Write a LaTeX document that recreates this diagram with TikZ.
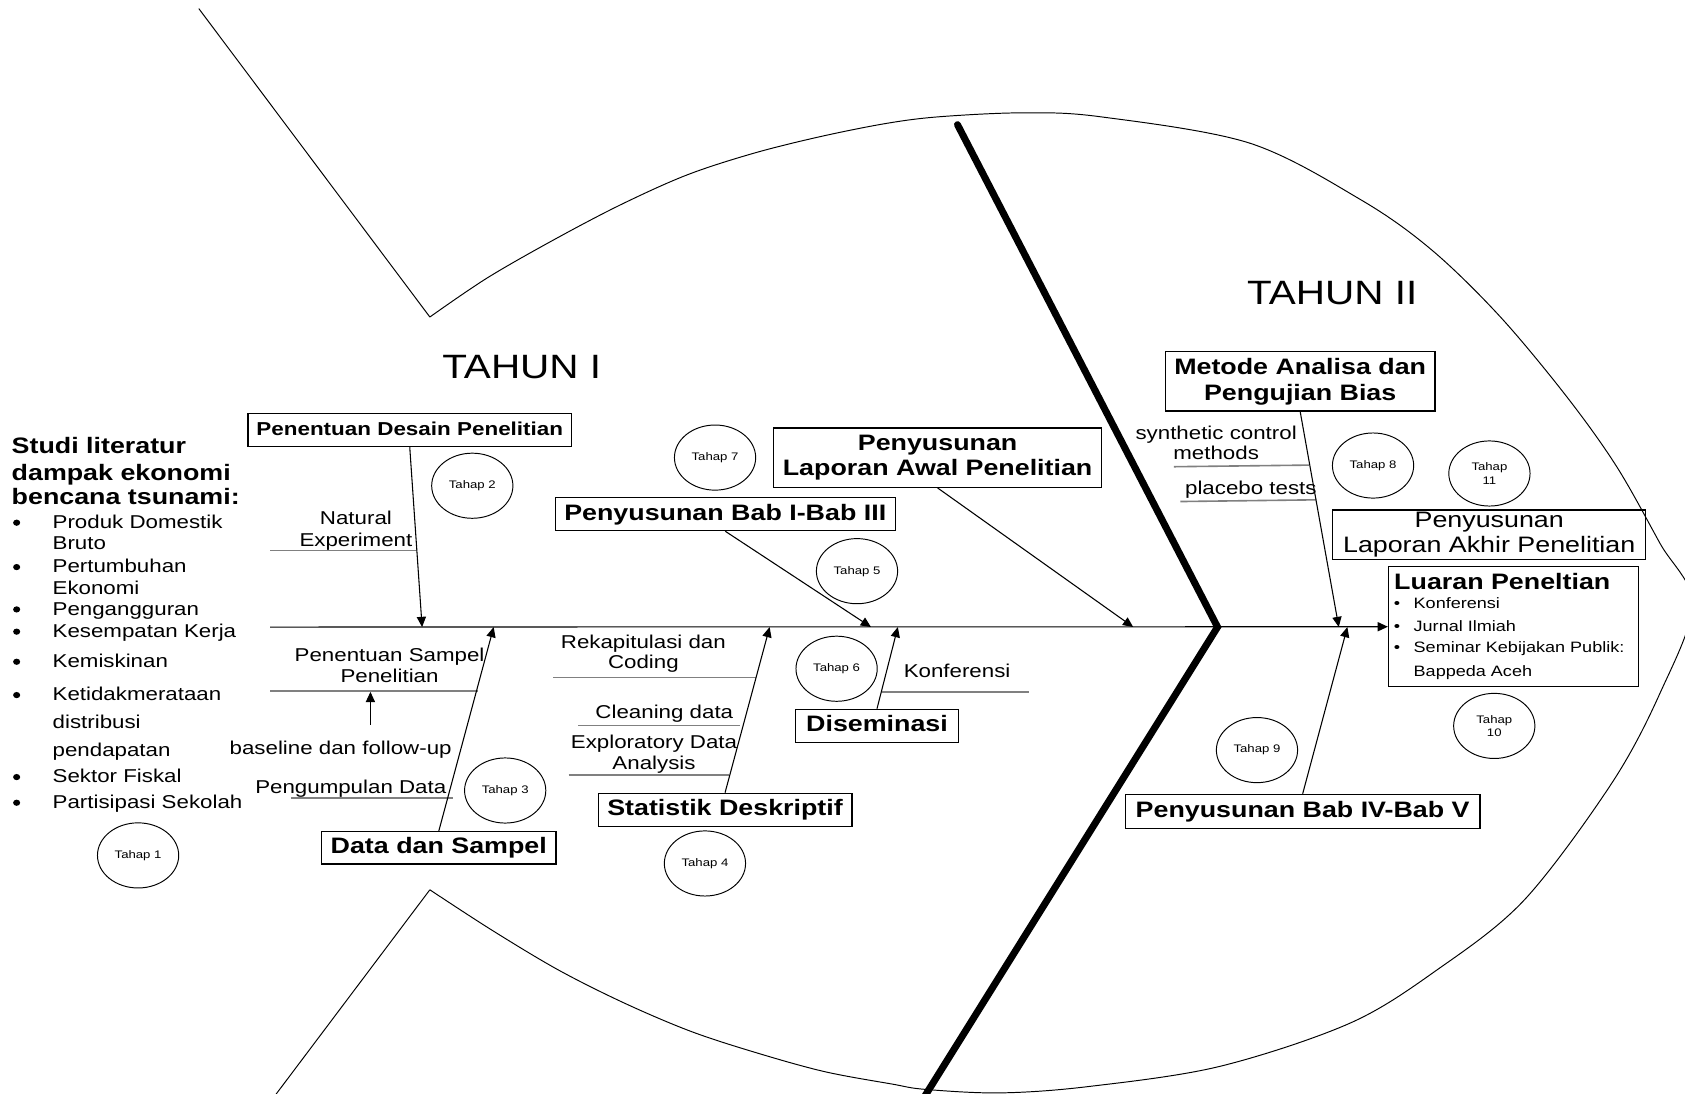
\documentclass[tikz,border=0pt]{standalone}
\usepackage{fontspec}
\setmainfont{Liberation Sans}[FakeStretch=1.2]
\usetikzlibrary{arrows.meta,shapes.geometric}
\definecolor{bonegray}{RGB}{128,128,128}
\newcommand{\fsz}[2]{\fontsize{#1}{#2}\selectfont}

\begin{document}
\begin{tikzpicture}[x=1pt,y=-1pt,
  outline/.style={line width=0.9pt},
  arr/.style={line width=1pt,-{Triangle[length=9.5pt,width=8.5pt]}},
  bone/.style={line width=1.5pt,draw=bonegray},
  boxone/.style={draw,line width=1.1pt,inner sep=0pt,font=\bfseries\fsz{20.8}{24},text height=15pt,text depth=3.8pt},
  boxtwo/.style={draw,line width=1.1pt,inner sep=0pt,align=center,font=\bfseries\fsz{20.8}{24}},
  tahap/.style={draw,ellipse,line width=0.9pt,minimum width=75.6pt,minimum height=60.6pt,inner sep=0pt,align=center,font=\fsz{10.2}{12.4}},
  lbl/.style={inner sep=0pt,anchor=base,font=\fsz{17.3}{20}},
  lblw/.style={inner sep=0pt,anchor=base west,font=\fsz{17.3}{20}},
  bulletdot/.style={fill,ellipse,inner sep=0pt,minimum width=6.6pt,minimum height=5.8pt},
  small/.style={inner sep=0pt,anchor=base west,font=\fsz{14}{16}},
  smalldot/.style={inner sep=0pt,anchor=base,font=\fsz{14}{16}},
  title/.style={inner sep=0pt,anchor=base,font=\fsz{31.4}{36}},
  head/.style={inner sep=0pt,anchor=base west,font=\bfseries\fsz{20.8}{24}}
]
\useasboundingbox (0,0) rectangle (1568,1018);
\fill[white] (0,0) rectangle (1568,1018);
\clip (0,0) rectangle (1568,1018);

% ---------- fish outline ----------
\draw[outline] (185,8) -- (400,295);
\draw[outline] plot[smooth,tension=0.55] coordinates {
  (400,295) (452.8,259) (514.9,223.4) (577,190.8) (639,162.9) (701,142.7)
  (763,127.2) (825,114.8) (874.7,108.6) (951.6,105) (1023.6,108.6)
  (1162.3,133) (1266.5,186) (1332.3,232.6) (1395.9,294.6) (1457.9,369.1)
  (1504.4,434.2) (1544.7,505.6) (1575,562) (1544.7,645.1) (1499.7,729)
  (1418.4,837.5) (1337,902.7) (1255.8,952.3) (1133.9,992.6) (1011.9,1011.2)
  (930.6,1017) (860.8,1013.7) (829.7,1008.7) (767.7,997.3) (705.7,980.2)
  (643.6,960) (581.6,933.7) (519.6,902.6) (457.5,865.4) (400,828)};
\draw[outline] (400,828) -- (249.5,1028);
\draw[line width=6.5pt,line cap=round,line join=miter] (891,116) -- (1133,583.5) -- (855,1029);

% ---------- titles ----------
\node[title] (th1) at (485.5,352) {TAHUN I};
\node[title] (th2) at (1239.8,283.8) {TAHUN II};

% ---------- left list ----------
\node[head] (st1) at (10.7,421.8) {Studi literatur};
\node[head] (st2) at (10.7,446.7) {dampak ekonomi};
\node[head] (st3) at (10.7,469.9) {bencana tsunami:};
\foreach \yy/\tt [count=\i] in {491.6/Produk Domestik, 532.9/Pertumbuhan, 572.3/Pengangguran,
   593/Kesempatan Kerja, 621/Kemiskinan, 652/Ketidakmerataan, 728.3/Sektor Fiskal,
   752.2/Partisipasi Sekolah}{
  \node[bulletdot] (bd\i) at (15.5,\yy-5.2) {};
  \node[lblw] (bt\i) at (48.8,\yy) {\tt};
}
\node[lblw] (bc1) at (48.8,511.8) {Bruto};
\node[lblw] (bc2) at (48.8,553) {Ekonomi};
\node[lblw] (bc3) at (48.8,677.7) {distribusi};
\node[lblw] (bc4) at (48.8,703.5) {pendapatan};

% ---------- boxes ----------
\node[boxone,font=\bfseries\fsz{17.4}{20},text height=12.6pt,text depth=3.1pt,
      minimum width=301pt,minimum height=31.1pt] (desain) at (381.3,400.1) {Penentuan Desain Penelitian};
\node[boxone,minimum width=218.3pt,minimum height=30.1pt] (datasampel) at (408.3,789) {Data dan Sampel};
\node[boxone,minimum width=316.3pt,minimum height=30.8pt] (bab13) at (674.9,478.4) {Penyusunan Bab I-Bab III};
\node[boxone,minimum width=236.1pt,minimum height=31pt] (statistik) at (674.7,753.7) {Statistik Deskriptif};
\node[boxone,minimum width=151.4pt,minimum height=31pt] (diseminasi) at (816.1,675.5) {Diseminasi};
\node[boxone,minimum width=329.9pt,minimum height=31.6pt] (bab45) at (1212.2,755) {Penyusunan Bab IV-Bab V};
\node[boxtwo,minimum width=305.6pt,minimum height=55.2pt] (lapawal) at (872.5,425.9) {Penyusunan\\Laporan Awal Penelitian};
\node[boxtwo,minimum width=251pt,minimum height=55.2pt] (metode) at (1209.9,354.9) {Metode Analisa dan\\Pengujian Bias};
\node[boxtwo,font=\fsz{20.8}{23.6},minimum width=291.6pt,minimum height=45.9pt] (lapakhir) at (1385.8,497.6) {Penyusunan\\Laporan Akhir Penelitian};
\node[draw,line width=1.1pt,inner sep=0pt,minimum width=232.7pt,minimum height=111.7pt] (luaran) at (1408.4,583.2) {};

% Luaran content
\node[head] (lu0) at (1297.2,548.4) {Luaran Peneltian};
\node[smalldot] (lud1) at (1300,566.1) {•};
\node[small] (lu1) at (1315.3,566.1) {Konferensi};
\node[smalldot] (lud2) at (1300,587.8) {•};
\node[small] (lu2) at (1315.3,587.8) {Jurnal Ilmiah};
\node[smalldot] (lud3) at (1300,607.3) {•};
\node[small] (lu3) at (1315.3,607.3) {Seminar Kebijakan Publik:};
\node[small] (lu4) at (1315.3,629.7) {Bappeda Aceh};

% ---------- Tahap ellipses ----------
\node[tahap] (t1) at (128.5,796) {Tahap 1};
\node[tahap] (t2) at (439.5,452) {Tahap 2};
\node[tahap] (t3) at (470.1,735.6) {Tahap 3};
\node[tahap] (t4) at (656,803.5) {Tahap 4};
\node[tahap] (t5) at (797.5,531.5) {Tahap 5};
\node[tahap] (t6) at (778.5,622.3) {Tahap 6};
\node[tahap] (t7) at (665.4,425.8) {Tahap 7};
\node[tahap] (t8) at (1277.7,433.2) {Tahap 8};
\node[tahap] (t9) at (1169.7,698) {Tahap 9};
\node[tahap] (t10) at (1390.5,675.5) {Tahap\\10};
\node[tahap] (t11) at (1386,440.6) {Tahap\\11};

% ---------- sub-bone labels ----------
\node[lbl] (nat1) at (331.2,488.5) {Natural};
\node[lbl] (nat2) at (331.2,508.7) {Experiment};
\node[lbl] (ps1) at (362.5,615.7) {Penentuan Sampel};
\node[lbl] (ps2) at (362.5,635.2) {Penelitian};
\node[lbl] (bfu) at (317,702.5) {baseline dan follow-up};
\node[lbl] (pgd) at (326.4,738.2) {Pengumpulan Data};
\node[lbl] (rk1) at (598.7,603.3) {Rekapitulasi dan};
\node[lbl] (rk2) at (598.7,621.9) {Coding};
\node[lbl] (cln) at (618.2,668.4) {Cleaning data};
\node[lbl] (eda1) at (608.6,696.3) {Exploratory Data};
\node[lbl] (eda2) at (608.6,716.5) {Analysis};
\node[lblw] (knf) at (840.8,630.3) {Konferensi};
\node[lbl] (sc1) at (1131.7,408.8) {synthetic control};
\node[lbl] (sc2) at (1131.7,428) {methods};
\node[lbl] (plc) at (1164,460.6) {placebo tests};

% ---------- sub-bone lines ----------
\draw[bone] (251.4,512.4) -- (388.2,512.4);
\draw[bone] (251.4,643) -- (444.4,643);
\draw[bone] (270.7,742.8) -- (422,742.8);
\draw[bone] (515,630.3) -- (703.7,630.3);
\draw[bone] (538.1,675.2) -- (688.4,675.2);
\draw[bone] (529.2,721) -- (678.8,721);
\draw[bone] (820.5,644) -- (957.6,644);
\draw[bone] (1092.4,434.3) -- (1218,432.8);
\draw[bone] (1098.3,466.7) -- (1225,465.1);

% ---------- spine and arrows ----------
\coordinate (spineL) at (251.4,583.5);
\draw[arr] (spineL) -- (luaran.west);
\coordinate (s1) at (392.8,583.5);
\coordinate (s2) at (459.4,583.5);
\coordinate (s3) at (716.2,583.5);
\coordinate (s4) at (810.5,583.5);
\coordinate (s5) at (835.5,583.5);
\coordinate (s6) at (1054.5,583.5);
\coordinate (s7) at (1245.8,583.5);
\coordinate (s8) at (1253.8,583.5);
\draw[arr] (desain.south) -- (s1);
\draw[arr] (datasampel.north) -- (s2);
\draw[arr] (statistik.north) -- (s3);
\draw[arr] (bab13.south) -- (s4);
\draw[arr] (diseminasi.north) -- (s5);
\draw[arr] (lapawal.south) -- (s6);
\draw[arr] (metode.south) -- (s7);
\draw[arr] (bab45.north) -- (s8);
\coordinate (baseA) at (344.7,674.6);
\coordinate (baseB) at (344.7,643.8);
\draw[arr] (baseA) -- (baseB);
\end{tikzpicture}
\end{document}
